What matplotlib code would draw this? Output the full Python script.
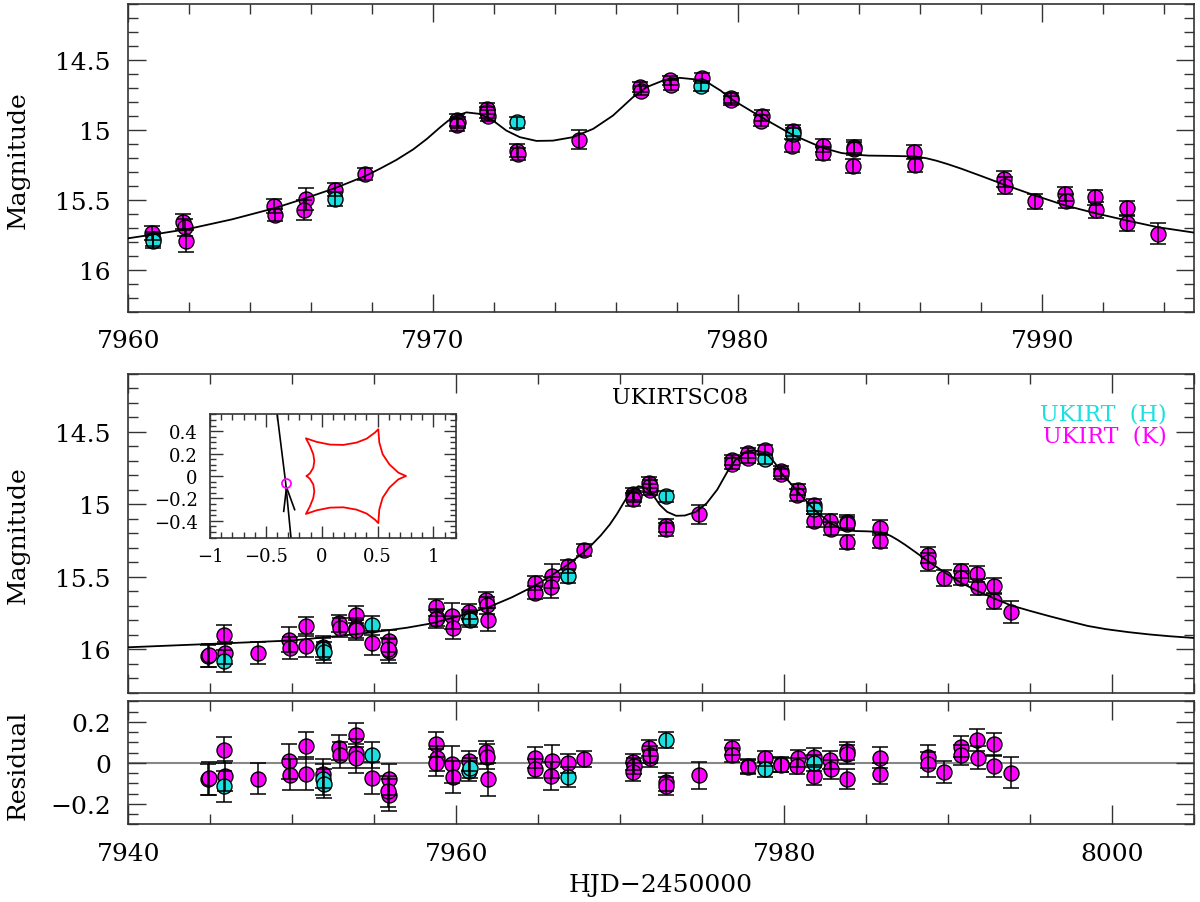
import matplotlib
matplotlib.use("Agg")
import matplotlib.pyplot as plt
from matplotlib.ticker import FixedLocator, MultipleLocator, FuncFormatter

# ---------------- data ----------------
# UKIRT K band: time (HJD-2450000), magnitude, error, residual
k_t = [7944.88, 7944.92, 7945.85, 7945.88, 7947.89, 7949.82, 7949.85, 7950.82, 7950.85,
       7951.89, 7952.87, 7952.90, 7953.88, 7953.86, 7953.90, 7954.84, 7955.87, 7955.90,
       7955.85, 7958.77, 7958.80, 7958.75, 7959.76, 7959.79, 7960.79, 7961.81, 7961.85,
       7961.90, 7964.78, 7964.80, 7965.82, 7965.76, 7966.78, 7967.78, 7970.80, 7970.82,
       7970.78, 7971.76, 7971.80, 7971.78, 7972.77, 7972.80, 7974.81, 7976.79, 7976.83,
       7977.79, 7977.81, 7978.82, 7979.78, 7979.80, 7980.80, 7980.78, 7981.81, 7981.79,
       7982.80, 7982.82, 7983.81, 7983.83, 7983.79, 7985.80, 7985.82, 7988.76, 7988.78,
       7989.75, 7990.75, 7990.78, 7991.75, 7991.78, 7992.80, 7992.78, 7993.80]
k_mag = [16.047, 16.040, 15.898, 16.024, 16.024, 15.933, 15.990, 15.841, 15.975,
         15.980, 15.820, 15.850, 15.760, 15.850, 15.865, 15.955, 15.940, 16.010,
         15.995, 15.710, 15.780, 15.790, 15.770, 15.850, 15.739, 15.656, 15.696,
         15.796, 15.541, 15.608, 15.494, 15.572, 15.427, 15.315, 14.930, 14.945,
         14.965, 14.850, 14.898, 14.875, 15.148, 15.172, 15.069, 14.695, 14.719,
         14.647, 14.678, 14.628, 14.771, 14.790, 14.898, 14.934, 15.005, 15.112,
         15.112, 15.167, 15.119, 15.135, 15.260, 15.160, 15.250, 15.350, 15.398,
         15.510, 15.458, 15.506, 15.482, 15.572, 15.560, 15.665, 15.744]
k_err = [0.075, 0.080, 0.065, 0.075, 0.075, 0.085, 0.075, 0.065, 0.080,
         0.070, 0.060, 0.065, 0.060, 0.070, 0.070, 0.080, 0.075, 0.080,
         0.075, 0.060, 0.060, 0.065, 0.090, 0.080, 0.050, 0.055, 0.060,
         0.080, 0.050, 0.045, 0.080, 0.070, 0.045, 0.040, 0.040, 0.040,
         0.045, 0.040, 0.040, 0.040, 0.045, 0.045, 0.065, 0.035, 0.035,
         0.035, 0.035, 0.035, 0.035, 0.035, 0.040, 0.040, 0.040, 0.045,
         0.045, 0.045, 0.045, 0.045, 0.050, 0.050, 0.050, 0.055, 0.060,
         0.055, 0.050, 0.050, 0.055, 0.055, 0.055, 0.055, 0.075]
k_res = [-0.081, -0.075, 0.062, -0.064, -0.078, 0.008, -0.058, 0.084, -0.053,
         -0.053, 0.074, 0.038, 0.136, 0.046, 0.021, -0.074, -0.081, -0.157,
         -0.140, 0.090, 0.021, 0.000, -0.008, -0.069, 0.008, 0.051, 0.030,
         -0.081, 0.025, -0.028, 0.008, -0.064, -0.003, 0.018, 0.005, -0.015,
         -0.045, 0.071, 0.021, 0.040, -0.094, -0.114, -0.061, 0.074, 0.038,
         -0.015, -0.020, 0.021, -0.008, -0.012, 0.021, -0.015, 0.030, -0.064,
         0.013, -0.032, 0.057, 0.041, -0.078, 0.025, -0.053, 0.030, -0.008,
         -0.044, 0.079, 0.038, 0.112, 0.025, 0.090, -0.015, -0.048]

# UKIRT H band
h_t = [7945.86, 7951.90, 7951.92, 7954.86, 7960.80, 7960.82, 7966.80, 7972.77, 7978.80, 7981.83]
h_mag = [16.077, 15.997, 16.020, 15.834, 15.780, 15.795, 15.495, 14.945, 14.687, 15.030]
h_err = [0.075, 0.075, 0.070, 0.065, 0.050, 0.050, 0.050, 0.040, 0.035, 0.040]
h_res = [-0.114, -0.080, -0.102, 0.038, -0.041, -0.025, -0.069, 0.112, -0.032, 0.000]

# best-fit model light curve
model_t = [7940.0, 7945.0, 7950.0, 7953.0, 7955.0, 7957.0, 7958.5, 7960.0, 7961.0, 7961.98,
           7963.4, 7964.8, 7965.8, 7966.78, 7967.78, 7968.25, 7968.8, 7969.35, 7969.8,
           7970.22, 7970.5, 7970.77, 7971.10, 7971.54, 7971.97, 7972.41, 7972.85, 7973.40,
           7973.94, 7974.60, 7975.26, 7975.91, 7976.57, 7977.01, 7977.56, 7978.10, 7978.65,
           7979.09, 7979.45, 7979.78, 7980.78, 7981.81, 7982.80, 7983.40, 7983.83, 7984.30,
           7985.00, 7985.82, 7986.20, 7986.52, 7986.90, 7987.35, 7988.00, 7988.76, 7989.75,
           7990.75, 7991.75, 7992.80, 7993.80, 7995.00, 7996.20, 7997.40, 7998.50, 7999.60,
           8001.00, 8002.30, 8003.50, 8005.00]
model_mag = [15.985, 15.962, 15.938, 15.905, 15.880, 15.850, 15.820, 15.775, 15.742, 15.708,
             15.640, 15.560, 15.490, 15.417, 15.330, 15.279, 15.215, 15.140, 15.065,
             14.985, 14.935, 14.900, 14.875, 14.886, 14.933, 15.005, 15.052, 15.079,
             15.077, 15.052, 14.993, 14.898, 14.766, 14.695, 14.647, 14.628, 14.640,
             14.671, 14.720, 14.778, 14.909, 15.036, 15.129, 15.165, 15.177, 15.184,
             15.186, 15.190, 15.203, 15.220, 15.245, 15.278, 15.330, 15.392, 15.468,
             15.540, 15.596, 15.649, 15.696, 15.735, 15.772, 15.807, 15.838, 15.860,
             15.881, 15.897, 15.909, 15.921]

# inset: caustic outline and source trajectory
caustic_x = [-0.134, -0.105, -0.075, -0.066, -0.075, -0.105, -0.141, -0.045, 0.074, 0.194,
             0.313, 0.403, 0.477, 0.507, 0.516, 0.546, 0.606, 0.686, 0.755, 0.686,
             0.606, 0.546, 0.516, 0.507, 0.477, 0.403, 0.313, 0.194, 0.074, -0.045,
             -0.141, -0.105, -0.075, -0.066, -0.075, -0.105, -0.134]
caustic_y = [0.000, 0.024, 0.074, 0.134, 0.193, 0.268, 0.336, 0.304, 0.280, 0.277,
             0.298, 0.333, 0.387, 0.417, 0.298, 0.194, 0.104, 0.030, 0.000, -0.030,
             -0.104, -0.194, -0.298, -0.420, -0.389, -0.335, -0.300, -0.279, -0.282, -0.306,
             -0.338, -0.270, -0.195, -0.136, -0.076, -0.026, 0.000]
traj_x = [-0.400, -0.3226, -0.274]
traj_y = [0.560, -0.060, -0.560]
arrow_x = [-0.340, -0.315, -0.242]
arrow_y = [-0.315, -0.100, -0.300]
source_x = [-0.322]
source_y = [-0.060]

# axis limits and ticks
top_xlim = (7960, 7995)
full_xlim = (7940, 8005)
mag_lim = (16.3, 14.1)
res_lim = (-0.3, 0.3)
top_xticks = [7960, 7970, 7980, 7990]
full_xticks = [7940, 7960, 7980, 8000]
mag_ticks = [14.5, 15, 15.5, 16]
res_ticks = [-0.2, 0, 0.2]
in_xlim = (-1, 1.2)
in_ylim = (-0.55, 0.55)
in_xticks = [-1, -0.5, 0, 0.5, 1]
in_yticks = [-0.4, -0.2, 0, 0.2, 0.4]

# ---------------- style ----------------
plt.rcParams['font.family'] = ['DejaVu Serif']
MAG = '#FF00FF'
CYA = '#1BE0E0'
FRAME = '#333333'


def fmt(v, pos):
    v = round(v, 6)
    if v == 0:
        return '0'
    return ('%g' % v).replace('-', '\u2212')


def style(ax, xmajor, xminor, ymajor, yminor, mlen=13, mnlen=7, lsize=18, pad=12.5,
          xlen=None, xmnlen=None):
    ax.xaxis.set_major_locator(FixedLocator(xmajor))
    ax.xaxis.set_minor_locator(MultipleLocator(xminor))
    ax.yaxis.set_major_locator(FixedLocator(ymajor))
    ax.yaxis.set_minor_locator(MultipleLocator(yminor))
    ax.xaxis.set_major_formatter(FuncFormatter(fmt))
    ax.yaxis.set_major_formatter(FuncFormatter(fmt))
    ax.tick_params(which='both', direction='in', top=True, right=True, color=FRAME,
                   width=1.0, labelsize=lsize, pad=pad)
    ax.tick_params(axis='y', which='major', length=mlen)
    ax.tick_params(axis='y', which='minor', length=mnlen)
    ax.tick_params(axis='x', which='major', length=xlen if xlen else mlen)
    ax.tick_params(axis='x', which='minor', length=xmnlen if xmnlen else mnlen)
    for s in ax.spines.values():
        s.set_color(FRAME)
        s.set_linewidth(1.2)


def select(ts, vals, lo, hi):
    return [v for t, v in zip(ts, vals) if lo <= t <= hi]


def draw_points(ax, kt, yk, ke, ht, yh, he):
    ax.plot(kt, yk, 'o', ms=10.8, mfc=MAG, mec='black', mew=1.0, zorder=2, linestyle='none')
    ax.plot(ht, yh, 'o', ms=10.8, mfc=CYA, mec='black', mew=1.0, zorder=2.5, linestyle='none')
    ax.errorbar(kt, yk, yerr=ke, fmt='none', ecolor='black', elinewidth=1.1,
                capsize=6, capthick=1.1, zorder=3)
    ax.errorbar(ht, yh, yerr=he, fmt='none', ecolor='black', elinewidth=1.1,
                capsize=6, capthick=1.1, zorder=3)


fig = plt.figure(figsize=(12, 9.03), dpi=100)

# top panel (zoom on the anomaly)
lo, hi = top_xlim
ax1 = fig.add_axes([0.1069, 0.6537, 0.8885, 0.3408])
draw_points(ax1,
            select(k_t, k_t, lo, hi), select(k_t, k_mag, lo, hi), select(k_t, k_err, lo, hi),
            select(h_t, h_t, lo, hi), select(h_t, h_mag, lo, hi), select(h_t, h_err, lo, hi))
ax1.plot(model_t, model_mag, color='black', lw=1.3, zorder=4)
ax1.set_xlim(*top_xlim)
ax1.set_ylim(*mag_lim)
style(ax1, top_xticks, 2, mag_ticks, 0.1, mlen=13, mnlen=7)

# middle panel (full light curve)
ax2 = fig.add_axes([0.1069, 0.23145, 0.8885, 0.3536])
draw_points(ax2, k_t, k_mag, k_err, h_t, h_mag, h_err)
ax2.plot(model_t, model_mag, color='black', lw=1.3, zorder=4)
ax2.set_xlim(*full_xlim)
ax2.set_ylim(*mag_lim)
style(ax2, full_xticks, 5, mag_ticks, 0.1, mlen=13, mnlen=7, xlen=14, xmnlen=7.5)
ax2.tick_params(axis='x', labelbottom=False)
ax2.text(0.5175, 0.927, 'UKIRTSC08', transform=ax2.transAxes, ha='center', va='center',
         fontsize=16, color='black')
ax2.text(0.974, 0.874, 'UKIRT  (H)', transform=ax2.transAxes, ha='right', va='center',
         fontsize=16, color=CYA)
ax2.text(0.974, 0.805, 'UKIRT  (K)', transform=ax2.transAxes, ha='right', va='center',
         fontsize=16, color=MAG)

# residual panel
ax3 = fig.add_axes([0.1069, 0.08605, 0.8885, 0.13621])
ax3.axhline(0, color='#888888', lw=1.5, zorder=1)
draw_points(ax3, k_t, k_res, k_err, h_t, h_res, h_err)
ax3.set_xlim(*full_xlim)
ax3.set_ylim(*res_lim)
style(ax3, full_xticks, 5, res_ticks, 0.05, mlen=13, mnlen=7, xlen=14, xmnlen=7.5)

# labels
fig.text(18 / 1200, 1 - 160 / 903, 'Magnitude', rotation=90, ha='center', va='center', fontsize=18)
fig.text(18 / 1200, 1 - 535 / 903, 'Magnitude', rotation=90, ha='center', va='center', fontsize=18)
fig.text(18 / 1200, 1 - 765 / 903, 'Residual', rotation=90, ha='center', va='center', fontsize=18)
fig.text(661 / 1200, 1 - 886 / 903, 'HJD\u22122450000', ha='center', va='center', fontsize=18)

# inset: caustic geometry
axi = fig.add_axes([0.175, 0.40343, 0.20475, 0.13666])
axi.set_zorder(5)
axi.plot(caustic_x, caustic_y, color='red', lw=1.3)
axi.plot(traj_x, traj_y, color='black', lw=1.2)
axi.plot(arrow_x, arrow_y, color='black', lw=1.2)
axi.plot(source_x, source_y, 'o', ms=6.5, mfc='none', mec=MAG, mew=1.3)
axi.set_xlim(*in_xlim)
axi.set_ylim(*in_ylim)
style(axi, in_xticks, 0.1, in_yticks, 0.05, mlen=9, mnlen=4.3, lsize=13, pad=6.5)
axi.tick_params(axis='y', pad=9)

fig.savefig('out.png', dpi=100)
